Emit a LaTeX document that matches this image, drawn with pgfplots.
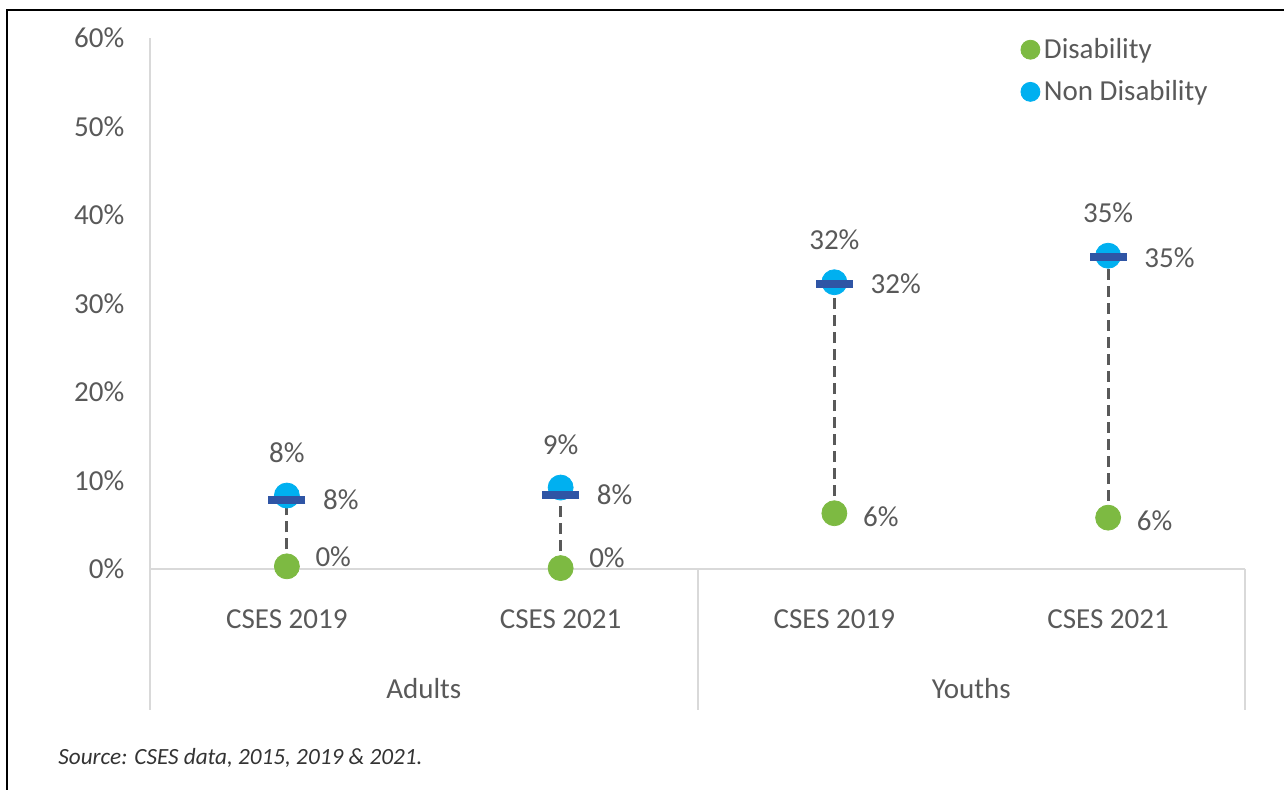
\documentclass[border=0pt]{standalone}
\usepackage{fontspec}
\setmainfont{Carlito}
\usepackage{pgfplots}
\pgfplotsset{compat=1.18}
\definecolor{cG}{HTML}{7DBA42}
\definecolor{cB}{HTML}{00B0F0}
\definecolor{cD}{HTML}{2F55A5}
\definecolor{cT}{HTML}{595959}
\definecolor{cA}{HTML}{D9D9D9}
\begin{document}
\begin{tikzpicture}
\useasboundingbox (0,0) rectangle (642pt,395pt);
\draw[line width=0.75pt] (3.5pt,0pt) -- (3.5pt,390pt) -- (642pt,390pt);
\node[anchor=base west, font=\fontsize{11.6}{13}\selectfont\itshape, text=black!80, inner sep=0pt] at (29pt,12.5pt) {Source: CSES data, 2015, 2019 \& 2021.};
\begin{axis}[
  at={(75pt,110.5pt)}, anchor=south west,
  scale only axis, width=547.5pt, height=265.5pt,
  xmin=-0.5, xmax=3.5, ymin=0, ymax=60,
  axis lines*=left,
  axis line style={cA, line width=1pt},
  xtick={0,1,2,3}, xticklabels={CSES 2019, CSES 2021, CSES 2019, CSES 2021},
  ytick={0,10,...,60}, yticklabels={0\%,10\%,20\%,30\%,40\%,50\%,60\%},
  major tick length=0pt,
  tick label style={font=\fontsize{14.5}{16}\selectfont, text=cT},
  xticklabel style={anchor=base, yshift=-30pt},
  yticklabel style={anchor=east, xshift=-9.3pt},
  clip=false,
  legend cell align=left,
  legend style={at={(rel axis cs:0.795,1.008)}, anchor=north west, draw=none, fill=none,
    font=\fontsize{14.5}{16}\selectfont, text=cT, row sep=5.5pt, inner sep=0pt},
  legend image code/.code={\draw[#1, mark size=4.75pt] plot coordinates {(0pt,0pt)};},
]
% connectors
\addplot[forget plot, cT, line width=1.5pt, dash pattern=on 5.5pt off 3pt] coordinates {(0,0.3) (0,7.8)};
\addplot[forget plot, cT, line width=1.5pt, dash pattern=on 5.5pt off 3pt] coordinates {(1,0.1) (1,8.4)};
\addplot[forget plot, cT, line width=1.5pt, dash pattern=on 5.5pt off 3pt] coordinates {(2,6.3) (2,32.2)};
\addplot[forget plot, cT, line width=1.5pt, dash pattern=on 5.5pt off 3pt] coordinates {(3,5.8) (3,35.2)};
% Disability
\addplot[only marks, mark=*, mark size=6.25pt, color=cG,
  nodes near coords, point meta=explicit symbolic,
  every node near coord/.append style={anchor=west, xshift=10.8pt, yshift=5pt, font=\fontsize{14.5}{16}\selectfont, text=cT}]
  coordinates {(0,0.3) [0\%] (1,0.1) [0\%]};
\addlegendentry{Disability}
\addplot[forget plot, only marks, mark=*, mark size=6.25pt, color=cG,
  nodes near coords, point meta=explicit symbolic,
  every node near coord/.append style={anchor=west, xshift=10.8pt, yshift=-1.5pt, font=\fontsize{14.5}{16}\selectfont, text=cT}]
  coordinates {(2,6.3) [6\%] (3,5.8) [6\%]};
% Non Disability
\addplot[only marks, mark=*, mark size=6.25pt, color=cB,
  nodes near coords, point meta=explicit symbolic,
  every node near coord/.append style={anchor=center, yshift=21.5pt, font=\fontsize{14.5}{16}\selectfont, text=cT}]
  coordinates {(0,8.3) [8\%] (1,9.2) [9\%] (2,32.4) [32\%] (3,35.4) [35\%]};
\addlegendentry{Non Disability}
% dash markers
\addplot[forget plot, only marks, mark=-, mark size=9.25pt, color=cD, mark options={line width=4pt},
  nodes near coords, point meta=explicit symbolic,
  every node near coord/.append style={anchor=west, xshift=12.8pt, font=\fontsize{14.5}{16}\selectfont, text=cT}]
  coordinates {(0,7.8) [8\%] (1,8.4) [8\%] (2,32.2) [32\%] (3,35.2) [35\%]};
% group separators and labels
\draw[cA, line width=1pt] (axis cs:-0.5,0) -- ++(0pt,-70.5pt);
\draw[cA, line width=1pt] (axis cs:1.5,0) -- ++(0pt,-70.5pt);
\draw[cA, line width=1pt] (axis cs:3.5,0) -- ++(0pt,-70.5pt);
\node[anchor=base, font=\fontsize{14.5}{16}\selectfont, text=cT] at ([yshift=-65pt]axis cs:0.5,0) {Adults};
\node[anchor=base, font=\fontsize{14.5}{16}\selectfont, text=cT] at ([yshift=-65pt]axis cs:2.5,0) {Youths};
\end{axis}
\end{tikzpicture}
\end{document}
